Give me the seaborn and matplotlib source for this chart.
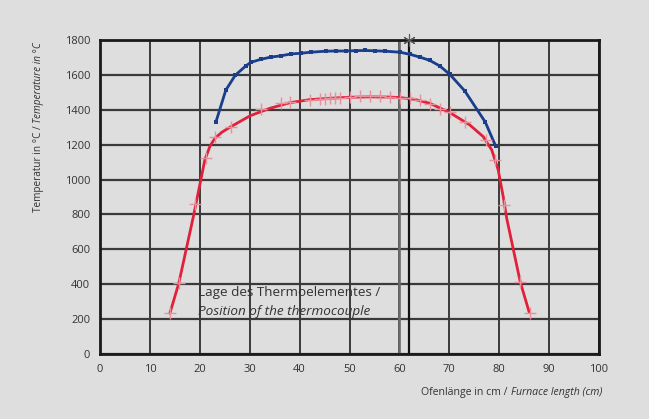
import matplotlib
matplotlib.use("Agg")
import matplotlib.pyplot as plt
import seaborn as sns

# red curve: traced line and its "+" measurement marks
red_line_x = [14.0, 15.8, 18.7, 20.2, 21.0, 22.0, 23.0, 24.4, 26.1, 30.1, 34.1, 38.1, 42.0, 46.0,
              50.0, 54.0, 58.0, 60.1, 63.0, 66.1, 70.1, 74.1, 76.8, 78.5, 79.8, 80.8, 81.5,
              84.2, 86.0]
red_line_y = [233, 407, 787, 998, 1112, 1189, 1236, 1271, 1301, 1366, 1409, 1441, 1458, 1466,
              1472, 1474, 1473, 1470, 1460, 1437, 1384, 1313, 1246, 1170, 1055, 902, 778,
              415, 240]

red_x = [14.0, 15.8, 19.0, 21.2, 23.0, 26.2, 32.2, 36.2, 38.1, 42.1, 44.1, 45.1, 46.1, 47.1, 48.0,
         50.1, 52.1, 54.1, 56.1, 58.1, 60.1, 62.1, 64.1, 66.1, 68.1, 70.1, 73.1, 77.4, 79.2, 81.0,
         84.2, 86.2]
red_y = [235, 407, 860, 1126, 1246, 1303, 1403, 1437, 1445, 1458, 1462, 1464, 1466, 1468, 1470,
         1474, 1477, 1477, 1477, 1474, 1470, 1466, 1456, 1433, 1405, 1386, 1332, 1227, 1112, 854,
         415, 233]

# blue curve
blue_x = [23.2, 25.2, 27.1, 29.2, 30.2, 32.2, 34.2, 36.2, 38.2, 40.2, 42.2, 45.2, 47.2, 49.2,
          51.2, 53.2, 55.2, 57.1, 60.1, 62.1, 64.1, 66.1, 68.1, 70.1, 73.1, 77.2, 79.3]
blue_y = [1328, 1512, 1598, 1651, 1672, 1689, 1702, 1709, 1720, 1724, 1730, 1736, 1737, 1737,
          1739, 1740, 1738, 1736, 1730, 1718, 1702, 1683, 1651, 1603, 1508, 1330, 1191]

thermo_x = 62
x_ticks = list(range(0, 101, 10))
y_ticks = list(range(0, 1801, 200))

sns.set_style("white")
plt.rcParams["font.family"] = ["Open Sans", "DejaVu Sans"]

bg = "#dedede"
txt = "#333333"
fig = plt.figure(figsize=(6.49, 4.19), dpi=100, facecolor=bg)
ax = fig.add_axes([0.1541, 0.1551, 0.7689, 0.7494], facecolor=bg)

for xv in x_ticks:
    ax.axvline(xv, color="#1e1e1e", lw=1.2, zorder=1)
for yv in y_ticks:
    ax.axhline(yv, color="#3a3a3a", lw=1.6, zorder=1)
ax.axvline(60, color="#6a6a6a", lw=1.9, zorder=1)
ax.axvline(thermo_x, color="#111111", lw=1.6, zorder=2)
ax.plot([thermo_x], [1800], marker=(6, 2, 0), ms=9, color="#555555", mew=0.8,
        clip_on=False, zorder=6)

sns.lineplot(x=red_line_x, y=red_line_y, sort=False, color="#e2203a", lw=2, ax=ax, zorder=4)
sns.scatterplot(x=red_x, y=red_y, marker="+", s=75, color="#e8909c", linewidth=1,
                ax=ax, zorder=5)
sns.lineplot(x=blue_x, y=blue_y, sort=False, color="#1a3d8c", lw=2, ax=ax, zorder=4)
sns.scatterplot(x=blue_x, y=blue_y, marker="s", s=7, color="#1a3d8c", linewidth=0,
                ax=ax, zorder=5)

ax.set_xlim(0, 100)
ax.set_ylim(0, 1800)
ax.set_xticks(x_ticks)
ax.set_yticks(y_ticks)
ax.tick_params(axis="x", length=0, pad=7, labelsize=8, labelcolor=txt)
ax.tick_params(axis="y", length=3, width=1, color="#2a2a2a", pad=4, labelsize=8,
               labelcolor=txt)
for s in ax.spines.values():
    s.set_color("#1a1a1a")
    s.set_linewidth(2)
ax.set_xlabel("")
ax.set_ylabel("")

ax.text(19.6, 350, "Lage des Thermoelementes /", fontsize=9.7, color=txt, va="center",
        zorder=6)
ax.text(19.6, 246, "Position of the thermocouple", fontsize=9.7, color=txt,
        style="italic", va="center", zorder=6)

# axis titles, upright part followed by italic part
W, H = 649, 419
r = fig.canvas.get_renderer()
xl_it = fig.text(602 / W, 1 - 392 / H, "Furnace length (cm)", fontsize=7.6, color=txt,
                 style="italic", ha="right", va="center")
x_left = xl_it.get_window_extent(r).x0
fig.text((x_left - 3) / W, 1 - 392 / H, "Ofenlänge in cm /", fontsize=7.6, color=txt,
         ha="right", va="center")

yl_it = fig.text(38 / W, 1 - 42 / H, "Temperature in °C", fontsize=7.2, color=txt,
                 style="italic", rotation=90, ha="center", va="top")
y_low = yl_it.get_window_extent(r).y0
fig.text(38 / W, (y_low - 3) / H, "Temperatur in °C /", fontsize=7.2, color=txt,
         rotation=90, ha="center", va="top")

fig.savefig("out.png", dpi=100, facecolor=bg)
